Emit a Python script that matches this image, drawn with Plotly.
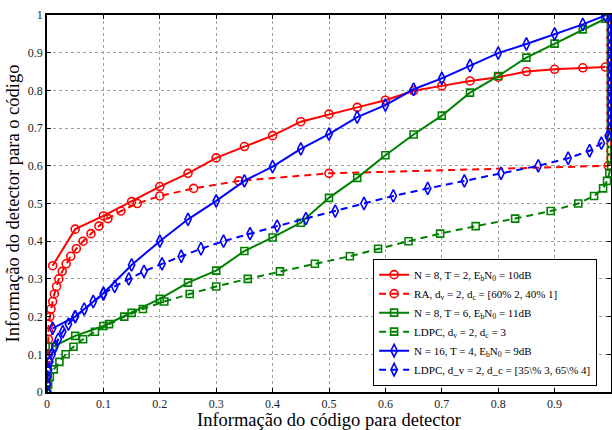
import plotly.graph_objects as go

# ---------------- data ----------------
# detector EXIT curves (x = I_A of detector)
det_x = [0.01, 0.05, 0.1, 0.15, 0.2, 0.25, 0.3, 0.35, 0.4, 0.45, 0.5,
         0.55, 0.6, 0.65, 0.7, 0.75, 0.8, 0.85, 0.9, 0.95, 0.99]
det_n8_t2 = [0.335, 0.432, 0.467, 0.505, 0.545, 0.58, 0.621, 0.651, 0.68, 0.717, 0.737,
             0.755, 0.774, 0.799, 0.812, 0.825, 0.835, 0.85, 0.856, 0.86, 0.862]
det_n8_t6 = [0.12, 0.149, 0.175, 0.21, 0.247, 0.29, 0.322, 0.374, 0.41, 0.449, 0.515,
             0.568, 0.628, 0.683, 0.733, 0.794, 0.838, 0.887, 0.924, 0.962, 0.99]
det_n16_t4 = [0.169, 0.2, 0.262, 0.337, 0.40, 0.458, 0.507, 0.56, 0.598, 0.645, 0.684,
              0.729, 0.761, 0.803, 0.832, 0.866, 0.899, 0.923, 0.95, 0.975, 0.999]

# code EXIT curves (axes swapped: y = I_A of code)
code_y = [0.0, 0.02, 0.04, 0.06, 0.08, 0.10, 0.12, 0.14, 0.16, 0.18, 0.20,
          0.22, 0.24, 0.26, 0.28, 0.30, 0.32, 0.34, 0.36, 0.38, 0.40,
          0.42, 0.44, 0.46, 0.48, 0.50, 0.52, 0.54, 0.56, 0.58, 0.60,
          0.62, 0.64, 0.66, 0.68, 0.70, 0.72, 0.74, 0.76, 0.78, 0.80,
          0.82, 0.84, 0.86, 0.88, 0.90, 0.92, 0.94, 0.96, 0.98, 1.0]
code_ra = [0.0, 0.0003, 0.0006, 0.0009, 0.0012, 0.0015, 0.002, 0.0025, 0.003, 0.003, 0.005,
           0.007, 0.010, 0.013, 0.017, 0.021, 0.027, 0.034, 0.042, 0.052, 0.064,
           0.078, 0.092, 0.108, 0.131, 0.16, 0.2, 0.26, 0.34, 0.5, 0.995,
           1.0, 1.0, 1.0, 1.0, 1.0, 1.0, 1.0, 1.0, 1.0, 1.0,
           1.0, 1.0, 1.0, 1.0, 1.0, 1.0, 1.0, 1.0, 1.0, 1.0]
code_ldpc3 = [0.0, 0.002, 0.005, 0.012, 0.022, 0.033, 0.047, 0.064, 0.085, 0.11, 0.137,
              0.17, 0.208, 0.253, 0.30, 0.356, 0.413, 0.475, 0.537, 0.587, 0.641,
              0.697, 0.76, 0.83, 0.893, 0.942, 0.97, 0.986, 0.993, 0.997, 1.0,
              1.0, 1.0, 1.0, 1.0, 1.0, 1.0, 1.0, 1.0, 1.0, 1.0,
              1.0, 1.0, 1.0, 1.0, 1.0, 1.0, 1.0, 1.0, 1.0, 1.0]
code_ldpc34 = [0.0, 0.0005, 0.001, 0.003, 0.005, 0.009, 0.014, 0.02, 0.028, 0.038, 0.05,
               0.066, 0.082, 0.1, 0.12, 0.145, 0.172, 0.204, 0.238, 0.273, 0.313,
               0.36, 0.408, 0.459, 0.511, 0.562, 0.614, 0.675, 0.74, 0.805, 0.871,
               0.924, 0.962, 0.983, 0.995, 1.0, 1.0, 1.0, 1.0, 1.0, 1.0,
               1.0, 1.0, 1.0, 1.0, 1.0, 1.0, 1.0, 1.0, 1.0, 1.0]

names = [
    "N = 8, T = 2, E<sub>b</sub>N<sub>0</sub> = 10dB",
    "RA, d<sub>v</sub> = 2, d<sub>c</sub> = [60% 2, 40% 1]",
    "N = 8, T = 6, E<sub>b</sub>N<sub>0</sub> = 11dB",
    "LDPC, d<sub>v</sub> = 2, d<sub>c</sub> = 3",
    "N = 16, T = 4, E<sub>b</sub>N<sub>0</sub> = 9dB",
    "LDPC, d_v = 2, d_c = [35\\% 3, 65\\% 4]",
]

tick_vals = [0, 0.1, 0.2, 0.3, 0.4, 0.5, 0.6, 0.7, 0.8, 0.9, 1]
tick_text = ["0", "0.1", "0.2", "0.3", "0.4", "0.5", "0.6", "0.7", "0.8", "0.9", "1"]

RED = "#ff0000"
GREEN = "#008000"
BLUE = "#0000ff"
FONT = "Liberation Serif"

fig = go.Figure()

def add(x, y, name, color, symbol, size, dash):
    fig.add_trace(go.Scatter(
        x=x, y=y, name=name, mode="lines+markers",
        line=dict(color=color, width=2, dash=dash),
        marker=dict(symbol=symbol, size=size, color=color, line=dict(width=1.6, color=color)),
    ))

add(det_x, det_n8_t2, names[0], RED, "circle-open", 8, "solid")
add(code_ra, code_y, names[1], RED, "circle-open", 8, "7px,5px")
add(det_x, det_n8_t6, names[2], GREEN, "square-open", 7, "solid")
add(code_ldpc3, code_y, names[3], GREEN, "square-open", 7, "7px,5px")
add(det_x, det_n16_t4, names[4], BLUE, "diamond-tall-open", 9, "solid")
add(code_ldpc34, code_y, names[5], BLUE, "diamond-tall-open", 9, "7px,5px")

axis_common = dict(
    range=[0, 1], tickvals=tick_vals, ticktext=tick_text,
    showgrid=True, gridcolor="#a0a0a0", griddash="dot", gridwidth=1,
    zeroline=False, showline=True, linecolor="black", linewidth=1.5,
    mirror="ticks", ticks="inside", ticklen=4, tickcolor="black", tickwidth=1,
    tickfont=dict(family=FONT, size=12, color="#222222"),
    automargin=False,
)

fig.update_xaxes(**axis_common,
                 title=dict(text="Informação do código para detector",
                            font=dict(family=FONT, size=18.5, color="black"), standoff=2))
fig.update_yaxes(**axis_common,
                 title=dict(text="Informação do detector para o código",
                            font=dict(family=FONT, size=18.5, color="black"), standoff=3))

fig.update_layout(
    width=612, height=430,
    margin=dict(l=47, r=1, t=15, b=38),
    paper_bgcolor="white", plot_bgcolor="white",
    font=dict(family=FONT, color="black"),
    legend=dict(
        x=0.975, y=0.016, xanchor="right", yanchor="bottom",
        bgcolor="white", bordercolor="black", borderwidth=1.2,
        font=dict(family=FONT, size=11, color="black"),
        tracegroupgap=0, itemwidth=30,
    ),
    showlegend=True,
)

fig.write_html("out.html")
